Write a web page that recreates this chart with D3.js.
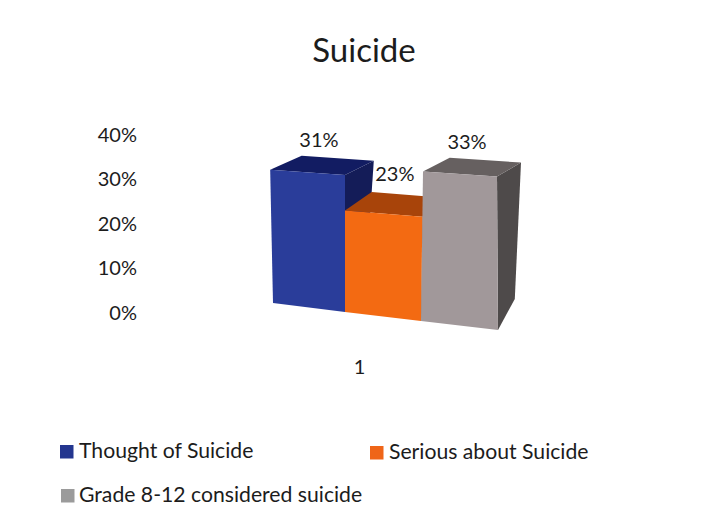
<!DOCTYPE html>
<html><head><meta charset="utf-8">
<script src="https://cdn.jsdelivr.net/npm/d3@7"></script>
<style>html,body{margin:0;background:#fff}svg{display:block}text{font-family:Lato,"Open Sans",sans-serif;fill:#1c1c1c}</style>
</head><body><div id="c"></div>
<script>
const titleText = "Suicide";
const seriesNames = ["Thought of Suicide","Serious about Suicide","Grade 8-12 considered suicide"];
const seriesValues = [0.31,0.23,0.33];
const valueLabels = ["31%","23%","33%"];
const yTicks = [0,0.1,0.2,0.3,0.4];
const categories = ["1"];
const frontColors = ["#2a3d9a","#f36a12","#a1989a"];
const sideColors = ["#141c58","#a8440a","#4e4a4a"];
const topColors = ["#121c62","#a8440a","#666060"];
const swatchColors = ["#24368f","#ef6518","#9b9b9b"];

const W=709,H=524;
const svg=d3.select("#c").append("svg").attr("width",W).attr("height",H);
svg.append("text").attr("x",364).attr("y",62).attr("text-anchor","middle").attr("font-size",33).text(titleText);

// Axes
const y=d3.scaleLinear().domain([0,0.4]).range([313,135]);
const yAxis=d3.axisLeft(y).tickValues(yTicks).tickFormat(d3.format(".0%")).tickSize(0).tickPadding(0);
const gy=svg.append("g").attr("transform","translate(137,0)").call(yAxis);
gy.select(".domain").remove();
gy.selectAll("text").attr("font-size",20);
const xCat=d3.scalePoint().domain(categories).range([359,359]);
const gx=svg.append("g").attr("transform","translate(0,360)").call(d3.axisBottom(xCat).tickSize(0).tickPadding(0));
gx.select(".domain").remove();
gx.selectAll("text").attr("font-size",20);

// Pseudo-3D projection of the bars
const xBase=d3.scaleLinear().domain([0,1,2,3]).range([273,345,421,498]);
const yBase=d3.scaleLinear().domain([0,3]).range([303,330]);
const unit=d3.scaleLinear().domain([0,3]).range([430,465]);
const fan=d3.scaleLinear().domain([0,1,2,3]).range([-3,0,2,-1]);
const depthX=d3.scaleLinear().domain([0,3]).range([32,24]);
const depthY=d3.scaleLinear().domain([0,3]).range([-13,-14]);
const front=(u,v)=>[xBase(u)+fan(u)*v/0.33, yBase(u)-unit(u)*v];
const back=(u,v)=>{const p=front(u,v);return [p[0]+depthX(u)*(v/0.33*0.3+0.7), p[1]+depthY(u)-(1-v/0.33)*17];};
const pts=a=>a.map(p=>p.join(",")).join(" ");

const bars=svg.append("g").selectAll("g").data(seriesValues).join("g");
bars.append("polygon").attr("points",(v,i)=>pts([front(i+1,v),back(i+1,v),back(i+1,0),front(i+1,0)])).attr("fill",(v,i)=>sideColors[i]);
bars.append("polygon").attr("points",(v,i)=>pts([front(i,v),back(i,v),back(i+1,v),front(i+1,v)])).attr("fill",(v,i)=>topColors[i]);
bars.append("polygon").attr("points",(v,i)=>pts([front(i,0),front(i,v),front(i+1,v),front(i+1,0)])).attr("fill",(v,i)=>frontColors[i]);

// Value labels
const labelNudge=[[-3,-9],[-1,-11],[-5,-9]];
svg.append("g").selectAll("text").data(seriesValues).join("text")
  .attr("text-anchor","middle").attr("font-size",20)
  .attr("x",(v,i)=>(front(i,v)[0]+back(i+1,v)[0])/2+labelNudge[i][0])
  .attr("y",(v,i)=>back(i,v)[1]+labelNudge[i][1])
  .text((v,i)=>valueLabels[i]);

// Legend
const legendX=[60,370,61],legendY=[445,446,489];
const lg=svg.append("g").selectAll("g").data(seriesNames).join("g").attr("transform",(d,i)=>`translate(${legendX[i]},${legendY[i]})`);
lg.append("rect").attr("width",13.5).attr("height",13.5).attr("fill",(d,i)=>swatchColors[i]);
lg.append("text").attr("x",(d,i)=>i===2?18:19).attr("y",13).attr("font-size",21.2).text(d=>d);
</script></body></html>
